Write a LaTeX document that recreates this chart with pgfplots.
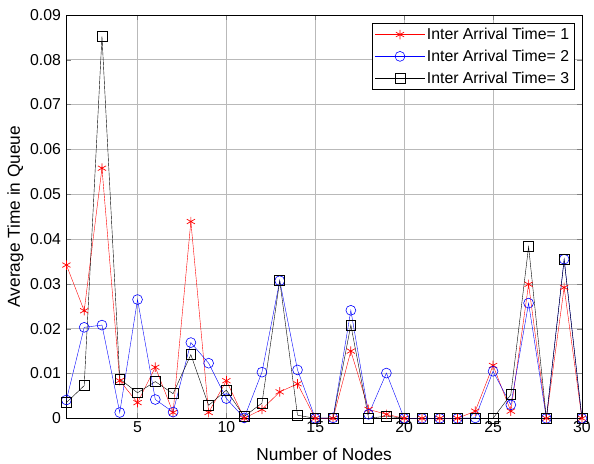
\documentclass[border=0pt]{standalone}
\usepackage{pgfplots}
\pgfplotsset{compat=1.18}
\usepackage{fontspec}
\setmainfont{Liberation Sans}
\begin{document}
\begin{tikzpicture}
\begin{axis}[
    name=main,
    scale only axis,
    width=520bp, height=407bp,
    xmin=1, xmax=30, ymin=0, ymax=0.09,
    xtick={5,10,15,20,25,30},
    ytick={0,0.01,0.02,0.03,0.04,0.05,0.06,0.07,0.08,0.09},
    scaled y ticks=false,
    /pgf/number format/assume math mode=true,
    yticklabel style={/pgf/number format/fixed, /pgf/number format/precision=2, xshift=-2bp},
    tick label style={font=\fontsize{16}{18}\selectfont},
    label style={font=\fontsize{17.5}{20}\selectfont},
    xlabel={Number of Nodes},
    ylabel={Average Time in Queue},
    ylabel shift=0bp,
    xlabel shift=8bp,
    grid=major,
    major grid style={gray!55, line width=0.6pt},
    tick align=inside,
    major tick length=5bp,
    axis line style={line width=0.7pt},
    legend style={at={(0.985,0.98)}, anchor=north east,
        font=\fontsize{16}{18}\selectfont, row sep=5bp, inner sep=3pt},
    legend cell align=left,
    legend image code/.code={
        \draw[mark repeat=2, mark phase=2] plot coordinates {(0bp,0bp) (25bp,0bp) (50bp,0bp)};
    },
]
\addplot[red, line width=0.4pt, mark=asterisk, mark size=4.8pt, mark options={line width=0.7pt}] coordinates {
(1,0.0342) (2,0.0240) (3,0.0558) (4,0.0084) (5,0.0035) (6,0.0114) (7,0.0013) (8,0.0439) (9,0.0013) (10,0.0084)
(11,0.0000) (12,0.0020) (13,0.0059) (14,0.0077) (15,0.0000) (16,0.0000) (17,0.0150) (18,0.0020) (19,0.0009) (20,0.0000)
(21,0.0000) (22,0.0000) (23,0.0000) (24,0.0016) (25,0.0118) (26,0.0016) (27,0.0299) (28,0.0000) (29,0.0292) (30,0.0000)
};
\addlegendentry{Inter Arrival Time= 1}
\addplot[blue, line width=0.4pt, mark=o, mark size=5pt, mark options={line width=0.6pt}] coordinates {
(1,0.0041) (2,0.0203) (3,0.0208) (4,0.0013) (5,0.0265) (6,0.0042) (7,0.0014) (8,0.0169) (9,0.0123) (10,0.0044)
(11,0.0001) (12,0.0103) (13,0.0307) (14,0.0108) (15,0.0000) (16,0.0001) (17,0.0241) (18,0.0009) (19,0.0101) (20,0.0000)
(21,0.0000) (22,0.0000) (23,0.0000) (24,0.0001) (25,0.0105) (26,0.0030) (27,0.0257) (28,0.0000) (29,0.0355) (30,0.0000)
};
\addlegendentry{Inter Arrival Time= 2}
\addplot[black, line width=0.4pt, mark=square, mark size=5pt, mark options={line width=0.6pt}] coordinates {
(1,0.0035) (2,0.0073) (3,0.0852) (4,0.0088) (5,0.0057) (6,0.0082) (7,0.0055) (8,0.0142) (9,0.0029) (10,0.0063)
(11,0.0004) (12,0.0034) (13,0.0307) (14,0.0007) (15,0.0000) (16,0.0001) (17,0.0208) (18,0.0000) (19,0.0005) (20,0.0000)
(21,0.0000) (22,0.0000) (23,0.0000) (24,0.0000) (25,0.0000) (26,0.0053) (27,0.0383) (28,0.0000) (29,0.0354) (30,0.0000)
};
\addlegendentry{Inter Arrival Time= 3}
\end{axis}
\path (main.north west) ++(0,15bp);
\path (main.south west) ++(-67bp,0);
\end{tikzpicture}
\end{document}
